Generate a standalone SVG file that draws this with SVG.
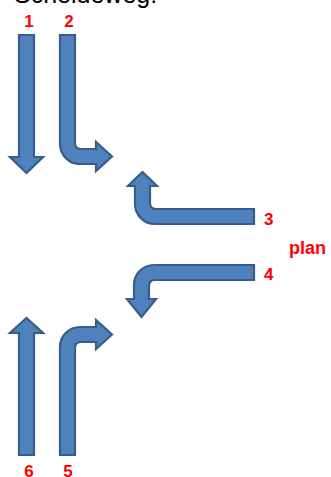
<svg xmlns="http://www.w3.org/2000/svg" width="331" height="477" viewBox="0 0 331 477">
<style>
.arr{fill:#4f81bd;stroke:#385d8a;stroke-width:2.2;stroke-linejoin:miter}
.num{font-family:"Liberation Sans",Arial,sans-serif;font-weight:bold;font-size:17px;fill:#ff0000}
.title{font-family:"Liberation Sans",Arial,sans-serif;font-size:25px;fill:#000000}
</style>
<rect width="331" height="477" fill="#ffffff"/>
<text class="title" x="14" y="3">Scheideweg:</text>
<g id="arrows">
<g id="a1">
<path class="arr" d="M19,35 H34 V157 H43 L26.5,173 L10,157 H19 Z"/>
<text class="num" x="29" y="27" text-anchor="middle">1</text>
</g>
<g id="a2">
<path class="arr" d="M60,35 H75 V143 Q75,149 81,149 H96 V142 L112,156.5 L96,171 V164 H80 A20,20 0 0 1 60,144 Z"/>
<text class="num" x="69" y="27" text-anchor="middle">2</text>
</g>
<g id="a3">
<path class="arr" d="M254,209 V224 H155 A20,20 0 0 1 135,204 V186 H128 L142.5,172 L157,186 H150 V203 Q150,209 156,209 Z"/>
<text class="num" x="264" y="225">3</text>
</g>
<g id="a4">
<path class="arr" d="M254,265 V280 H155 Q149,280 149,286 V299 H156 L141.5,317 L127,299 H134 V285 A20,20 0 0 1 154,265 Z"/>
<text class="num" x="264" y="280">4</text>
</g>
<g id="a5">
<path class="arr" d="M60,455 V347 A20,20 0 0 1 80,327 H96 V320 L112,334.5 L96,349 V342 H81 Q75,342 75,348 V455 Z"/>
<text class="num" x="68" y="477" text-anchor="middle">5</text>
</g>
<g id="a6">
<path class="arr" d="M19,455 V333 H10 L26.5,318 L43,333 H34 V455 Z"/>
<text class="num" x="29" y="477" text-anchor="middle">6</text>
</g>
</g>
<g id="plan">
<text class="num" x="289" y="254" style="font-size:18px">plan</text>
</g>
</svg>
